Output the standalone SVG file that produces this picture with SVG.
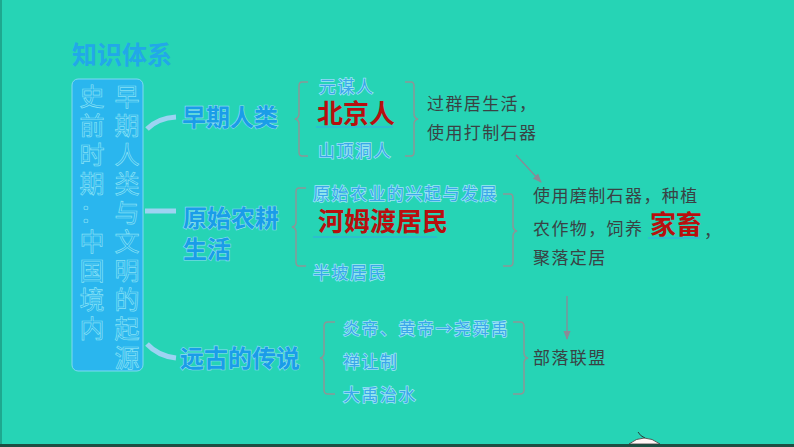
<svg xmlns="http://www.w3.org/2000/svg" width="794" height="447" viewBox="0 0 794 447">
<style>
.cjk{font-family:"Noto Sans CJK SC","Noto Sans",sans-serif}
.title{font-size:25px;font-weight:bold;fill:#22a8e8}
.vt{font-size:25px;fill:#2ab2ee;stroke:#86e2f6;stroke-width:0.7}
.lbl{font-size:24px;font-weight:bold;fill:#1a9de8;stroke:#8edcf4;stroke-width:1.2;paint-order:stroke}
.sm{font-size:17px;letter-spacing:1.5px;fill:#3aa6ea;stroke:#9fe8f6;stroke-width:1.4;paint-order:stroke}
.red{font-size:26px;font-weight:bold;fill:#b80f0f}
.dk{font-size:17px;letter-spacing:1.4px;fill:#3a4244}
.brace{fill:none;stroke:#8c9696;stroke-width:1.5}
.ul{stroke:#33a8e8;stroke-width:1.2}
.curve{fill:none;stroke:#9dd3f2;stroke-width:5;stroke-linecap:butt}
.arr{stroke:#8a8a96;stroke-width:1.3;fill:none}
</style>
<defs>
<marker id="ah" viewBox="0 0 10 10" refX="9" refY="5" markerWidth="7" markerHeight="7" orient="auto">
<path d="M0,1 L10,5 L0,9 Z" fill="#8a8a96"/>
</marker>
</defs>
<rect width="794" height="447" fill="#26d4b5"/>
<rect x="0" y="0" width="2" height="447" fill="#1ea88f"/>
<rect x="0" y="444" width="794" height="3" fill="#1c4f42"/>

<g id="title"><text class="cjk title" x="72" y="64">知识体系</text></g>

<g id="main">
<rect x="72" y="79" width="71" height="292" rx="6" fill="#2ab6ee" stroke="#7fd9f3" stroke-width="1"/>
<text class="cjk vt" text-anchor="middle">
<tspan x="127" y="106">早</tspan><tspan x="127" y="135">期</tspan><tspan x="127" y="164">人</tspan><tspan x="127" y="193">类</tspan><tspan x="127" y="222">与</tspan><tspan x="127" y="251">文</tspan><tspan x="127" y="280">明</tspan><tspan x="127" y="309">的</tspan><tspan x="127" y="338">起</tspan><tspan x="127" y="367">源</tspan>
</text>
<text class="cjk vt" text-anchor="middle">
<tspan x="92" y="106">史</tspan><tspan x="92" y="135">前</tspan><tspan x="92" y="164">时</tspan><tspan x="92" y="193">期</tspan><tspan x="92" y="222">：</tspan><tspan x="92" y="251">中</tspan><tspan x="92" y="280">国</tspan><tspan x="92" y="309">境</tspan><tspan x="92" y="338">内</tspan>
</text>
</g>

<g id="connectors">
<path class="curve" d="M147,129 Q158,118 176,117"/>
<path class="curve" d="M145,211 L176,211"/>
<path class="curve" d="M147,344 Q158,356 176,358"/>
<path class="brace" d="M308,82 L302,82 Q299,82 299,86 L299,114 Q299,118 295,119 Q299,120 299,124 L299,152 Q299,156 302,156 L308,156"/>
<path class="brace" d="M405,82 L411,82 Q414,82 414,86 L414,114 Q414,118 418,119 Q414,120 414,124 L414,152 Q414,156 411,156 L405,156"/>
<path class="brace" d="M306,188 L299,188 Q296,188 296,192 L296,222 Q296,226 292,227 Q296,228 296,232 L296,262 Q296,266 299,266 L306,266"/>
<path class="brace" d="M503,194 L510,194 Q513,194 513,198 L513,226 Q513,230 517,231 Q513,232 513,236 L513,262 Q513,266 510,266 L503,266"/>
<path class="brace" d="M335,322 L328,322 Q324,322 324,326 L324,353 Q324,357 320,358 Q324,359 324,363 L324,390 Q324,394 328,394 L335,394"/>
<path class="brace" d="M513,322 L520,322 Q524,322 524,326 L524,353 Q524,357 528,358 Q524,359 524,363 L524,390 Q524,394 520,394 L513,394"/>
<line class="arr" x1="516" y1="155" x2="541" y2="182" marker-end="url(#ah)"/>
<line class="arr" x1="567" y1="296" x2="567" y2="339" marker-end="url(#ah)"/>
</g>

<g id="early">
<text class="cjk lbl" x="182" y="126">早期人类</text>
<text class="cjk sm" x="319" y="93">元谋人</text>
<text class="cjk red" x="317" y="123">北京人</text>
<line class="ul" x1="316" y1="127" x2="393" y2="127"/>
<text class="cjk sm" x="318" y="157">山顶洞人</text>
<text class="cjk dk" x="427" y="110">过群居生活，</text>
<text class="cjk dk" x="427" y="139">使用打制石器</text>
</g>

<g id="farming">
<text class="cjk lbl" x="183" y="227">原始农耕</text>
<text class="cjk lbl" x="183" y="258">生活</text>
<text class="cjk sm" x="313" y="200">原始农业的兴起与发展</text>
<text class="cjk red" x="318" y="231">河姆渡居民</text>
<line class="ul" x1="313" y1="237" x2="437" y2="237"/>
<text class="cjk sm" x="313" y="279">半坡居民</text>
<text class="cjk dk" x="533" y="202">使用磨制石器，种植</text>
<text class="cjk dk" x="533" y="235">农作物，饲养</text>
<text class="cjk red" x="650" y="234">家畜</text>
<line class="ul" x1="648" y1="238" x2="700" y2="238"/>
<text class="cjk dk" x="704" y="237">，</text>
<text class="cjk dk" x="533" y="264">聚落定居</text>
</g>

<g id="legend">
<text class="cjk lbl" x="180" y="367">远古的传说</text>
<text class="cjk sm" x="343" y="335">炎帝、黄帝→尧舜禹</text>
<text class="cjk sm" x="343" y="368">禅让制</text>
<text class="cjk sm" x="343" y="401">大禹治水</text>
<text class="cjk dk" x="533" y="364">部落联盟</text>
</g>

<g id="deco">
<path d="M629,444 Q644,432 660,444 Z" fill="#fff4f4" stroke="#3a3a3a" stroke-width="0.8"/>
<path d="M638,432 Q640,436 645,438" fill="none" stroke="#2a3a3a" stroke-width="1"/>
</g>
</svg>
